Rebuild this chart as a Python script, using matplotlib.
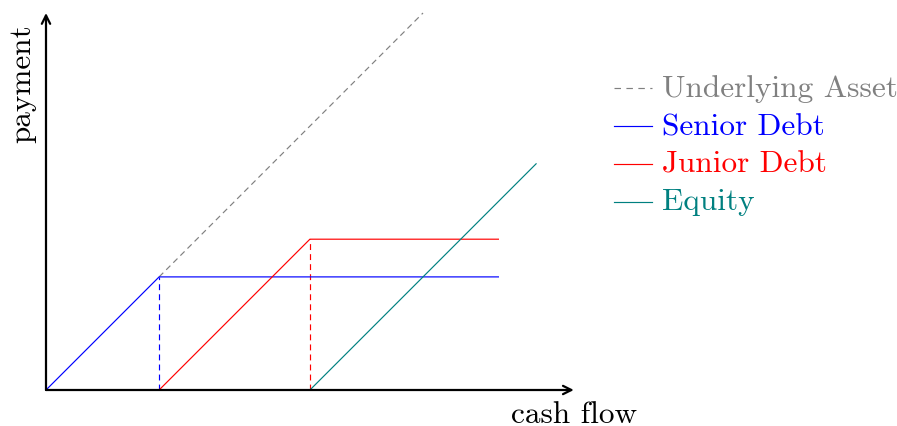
import matplotlib
matplotlib.use("Agg")
import matplotlib.pyplot as plt

# Data (payoff structure)
underlying_x = [3, 10]
underlying_y = [3, 10]
senior_x = [0, 3, 12]
senior_y = [0, 3, 3]
junior_x = [3, 7, 12]
junior_y = [0, 4, 4]
equity_x = [7, 13]
equity_y = [0, 6]
senior_drop_x = [3, 3]
senior_drop_y = [0, 3]
junior_drop_x = [7, 7]
junior_drop_y = [0, 4]
legend_labels = ["Underlying Asset", "Senior Debt", "Junior Debt", "Equity"]
colors = ["#808080", "#0000ff", "#ff0000", "#008080"]
x_label = "cash flow"
y_label = "payment"
x_axis_end = 14
y_axis_end = 10

plt.rcParams['font.family'] = ['cmr10', 'DejaVu Serif']
plt.rcParams['axes.formatter.use_mathtext'] = True

fig = plt.figure(figsize=(8.97, 4.27), dpi=100)
ax = fig.add_axes([0, 0, 1, 1])
u = 37.7
ax.set_xlim(-46 / u, (897 - 46) / u)
ax.set_ylim(-(427 - 391) / u, 391 / u)
ax.axis('off')

lw = 0.85
dash = (5, 3.5)
ax.plot(underlying_x, underlying_y, color=colors[0], lw=lw, dashes=dash)
ax.plot(senior_drop_x, senior_drop_y, color=colors[1], lw=lw, dashes=dash)
ax.plot(junior_drop_x, junior_drop_y, color=colors[2], lw=lw, dashes=dash)
ax.plot(senior_x, senior_y, color=colors[1], lw=lw)
ax.plot(junior_x, junior_y, color=colors[2], lw=lw)
ax.plot(equity_x, equity_y, color=colors[3], lw=lw)

# axes arrows
ax.annotate("", xy=(x_axis_end, 0), xytext=(0, 0),
            arrowprops=dict(arrowstyle="->", lw=1.6, color="black",
                            shrinkA=0, shrinkB=0, mutation_scale=15))
ax.annotate("", xy=(0, y_axis_end), xytext=(0, 0),
            arrowprops=dict(arrowstyle="->", lw=1.6, color="black",
                            shrinkA=0, shrinkB=0, mutation_scale=15))

fs = 22.5
ax.text((574 - 46) / u, -(415 - 391) / u, x_label, ha='center', va='center', fontsize=fs)
ax.text(-(46 - 22) / u, (391 - 84) / u, y_label, ha='center', va='center',
        rotation=90, fontsize=fs)

# legend
ly = [8, 7, 6, 5]
styles = [dict(dashes=(5.5, 4.6)), {}, {}, {}]
for y, lab, c, st in zip(ly, legend_labels, colors, styles):
    ax.plot([15.07, 16.07], [y, y], color=c, lw=lw, **st)
    ax.text(16.34, y, lab, color=c, fontsize=fs, ha='left', va='center')

fig.savefig("out.png", dpi=100)
